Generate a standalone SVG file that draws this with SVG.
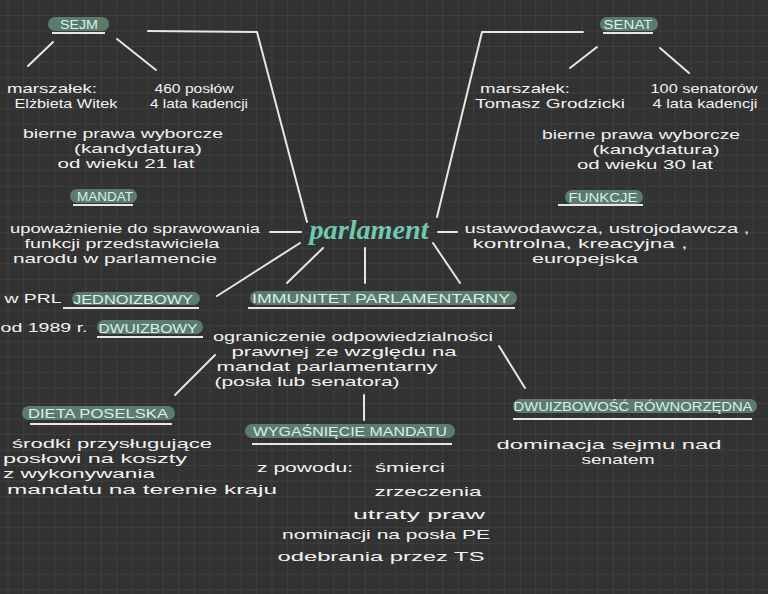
<svg xmlns="http://www.w3.org/2000/svg" width="768" height="594" viewBox="0 0 768 594">
<defs>
<pattern id="grid" patternUnits="userSpaceOnUse" x="7.6" y="15" width="15.52" height="15.52">
<path d="M15.52 0 L0 0 L0 15.52" fill="none" stroke="#4a4a4a" stroke-width="1"/>
</pattern>
<style>
.t{font-family:"Liberation Sans","DejaVu Sans",sans-serif;font-size:13px;fill:#f2f2f2;text-anchor:middle}
.p{fill:#5b7b6f}
.pt{font-family:"Liberation Sans","DejaVu Sans",sans-serif;font-size:12px;fill:#d9f0e6;text-anchor:middle}
.u{stroke:#e6e6e6;stroke-width:2;fill:none}
.c{stroke:#e6e6e6;stroke-width:2;fill:none;stroke-linecap:round;stroke-linejoin:round}
.title{font-family:"Liberation Serif","DejaVu Serif",serif;font-style:italic;font-weight:bold;font-size:28px;fill:#6fc9b0;text-anchor:middle}
</style>
</defs>
<rect width="768" height="594" fill="#323232"/>
<rect width="768" height="594" fill="url(#grid)"/>

<g id="connectors">
<polyline class="c" points="148,31 257,32 307,222"/>
<polyline class="c" points="583,32 482,32 437,217"/>
<line class="c" x1="53" y1="42" x2="28" y2="66"/>
<line class="c" x1="117" y1="39" x2="156" y2="70"/>
<line class="c" x1="597" y1="47" x2="570" y2="68"/>
<line class="c" x1="660" y1="48" x2="689" y2="73"/>
<line class="c" x1="270" y1="232" x2="301" y2="232"/>
<line class="c" x1="438" y1="232" x2="457" y2="232"/>
<line class="c" x1="300" y1="243" x2="217" y2="296"/>
<line class="c" x1="323" y1="248" x2="287" y2="283"/>
<line class="c" x1="365" y1="248" x2="365" y2="283"/>
<line class="c" x1="433" y1="243" x2="460" y2="283"/>
<line class="c" x1="215" y1="355" x2="175" y2="395"/>
<line class="c" x1="499" y1="346" x2="525" y2="388"/>
<line class="c" x1="364" y1="395" x2="364" y2="420"/>
</g>

<g id="parlament">
<text class="title" x="369" y="239" textLength="119" lengthAdjust="spacingAndGlyphs">parlament</text>
</g>

<g id="sejm">
<rect class="p" x="48" y="17" width="61" height="14" rx="7"/>
<text class="pt" x="79" y="29" textLength="38" lengthAdjust="spacingAndGlyphs">SEJM</text>
<line class="u" x1="52" y1="33" x2="105" y2="33"/>
</g>
<g id="sejm-marszalek">
<text class="t" x="52" y="93" textLength="90" lengthAdjust="spacingAndGlyphs">marszałek:</text>
<text class="t" x="66" y="108" textLength="103" lengthAdjust="spacingAndGlyphs">Elżbieta Witek</text>
</g>
<g id="sejm-poslowie">
<text class="t" x="194" y="93" textLength="79" lengthAdjust="spacingAndGlyphs">460 posłów</text>
<text class="t" x="199" y="108" textLength="98" lengthAdjust="spacingAndGlyphs">4 lata kadencji</text>
</g>
<g id="sejm-bierne">
<text class="t" x="123" y="138" textLength="200" lengthAdjust="spacingAndGlyphs">bierne prawa wyborcze</text>
<text class="t" x="138" y="153" textLength="128" lengthAdjust="spacingAndGlyphs">(kandydatura)</text>
<text class="t" x="126" y="168" textLength="137" lengthAdjust="spacingAndGlyphs">od wieku 21 lat</text>
</g>

<g id="senat">
<rect class="p" x="600" y="17" width="58" height="14" rx="7"/>
<text class="pt" x="628" y="29" textLength="49" lengthAdjust="spacingAndGlyphs">SENAT</text>
<line class="u" x1="603" y1="33" x2="653" y2="33"/>
</g>
<g id="senat-marszalek">
<text class="t" x="525" y="93" textLength="90" lengthAdjust="spacingAndGlyphs">marszałek:</text>
<text class="t" x="550" y="108" textLength="150" lengthAdjust="spacingAndGlyphs">Tomasz Grodzicki</text>
</g>
<g id="senat-senatorowie">
<text class="t" x="704" y="93" textLength="107" lengthAdjust="spacingAndGlyphs">100 senatorów</text>
<text class="t" x="705" y="108" textLength="105" lengthAdjust="spacingAndGlyphs">4 lata kadencji</text>
</g>
<g id="senat-bierne">
<text class="t" x="641" y="139" textLength="198" lengthAdjust="spacingAndGlyphs">bierne prawa wyborcze</text>
<text class="t" x="656" y="154" textLength="127" lengthAdjust="spacingAndGlyphs">(kandydatura)</text>
<text class="t" x="645" y="169" textLength="136" lengthAdjust="spacingAndGlyphs">od wieku 30 lat</text>
</g>

<g id="mandat">
<rect class="p" x="70" y="189" width="67" height="14" rx="7"/>
<text class="pt" x="105" y="201" textLength="56" lengthAdjust="spacingAndGlyphs">MANDAT</text>
<line class="u" x1="73" y1="205" x2="133" y2="205"/>
<text class="t" x="135" y="233" textLength="250" lengthAdjust="spacingAndGlyphs">upoważnienie do sprawowania</text>
<text class="t" x="122" y="248" textLength="195" lengthAdjust="spacingAndGlyphs">funkcji przedstawiciela</text>
<text class="t" x="115" y="263" textLength="204" lengthAdjust="spacingAndGlyphs">narodu w parlamencie</text>
</g>

<g id="funkcje">
<rect class="p" x="565" y="190" width="78" height="14" rx="7"/>
<text class="pt" x="603" y="202" textLength="69" lengthAdjust="spacingAndGlyphs">FUNKCJE</text>
<line class="u" x1="558" y1="205" x2="643" y2="205"/>
<text class="t" x="607" y="233" textLength="285" lengthAdjust="spacingAndGlyphs">ustawodawcza, ustrojodawcza ,</text>
<text class="t" x="580" y="248" textLength="215" lengthAdjust="spacingAndGlyphs">kontrolna, kreacyjna ,</text>
<text class="t" x="585" y="263" textLength="106" lengthAdjust="spacingAndGlyphs">europejska</text>
</g>

<g id="jednoizbowy">
<text class="t" x="33" y="303" textLength="57" lengthAdjust="spacingAndGlyphs">w PRL</text>
<rect class="p" x="72" y="292" width="128" height="13" rx="6.5"/>
<text class="pt" x="133" y="304" textLength="120" lengthAdjust="spacingAndGlyphs">JEDNOIZBOWY</text>
<line class="u" x1="63" y1="308" x2="199" y2="308"/>
</g>

<g id="dwuizbowy">
<text class="t" x="44" y="332" textLength="87" lengthAdjust="spacingAndGlyphs">od 1989 r.</text>
<rect class="p" x="97" y="320" width="106" height="14" rx="7"/>
<text class="pt" x="148" y="333" textLength="99" lengthAdjust="spacingAndGlyphs">DWUIZBOWY</text>
<line class="u" x1="97" y1="337" x2="203" y2="337"/>
</g>

<g id="immunitet">
<rect class="p" x="250" y="291" width="267" height="14" rx="7"/>
<text class="pt" x="381" y="303" textLength="258" lengthAdjust="spacingAndGlyphs">IMMUNITET PARLAMENTARNY</text>
<line class="u" x1="248" y1="308" x2="515" y2="308"/>
<text class="t" x="353" y="341" textLength="280" lengthAdjust="spacingAndGlyphs">ograniczenie odpowiedzialności</text>
<text class="t" x="344" y="356" textLength="225" lengthAdjust="spacingAndGlyphs">prawnej ze względu na</text>
<text class="t" x="327" y="371" textLength="221" lengthAdjust="spacingAndGlyphs">mandat parlamentarny</text>
<text class="t" x="307" y="386" textLength="185" lengthAdjust="spacingAndGlyphs">(posła lub senatora)</text>
</g>

<g id="dieta">
<rect class="p" x="22" y="406" width="153" height="14" rx="7"/>
<text class="pt" x="98" y="418" textLength="140" lengthAdjust="spacingAndGlyphs">DIETA POSELSKA</text>
<line class="u" x1="30" y1="424" x2="172" y2="424"/>
<text class="t" x="112" y="448" textLength="200" lengthAdjust="spacingAndGlyphs">środki przysługujące</text>
<text class="t" x="95" y="463" textLength="184" lengthAdjust="spacingAndGlyphs">posłowi na koszty</text>
<text class="t" x="79" y="478" textLength="152" lengthAdjust="spacingAndGlyphs">z wykonywania</text>
<text class="t" x="142" y="494" textLength="270" lengthAdjust="spacingAndGlyphs">mandatu na terenie kraju</text>
</g>

<g id="wygasniecie">
<rect class="p" x="245" y="424" width="210" height="14" rx="7"/>
<text class="pt" x="350" y="436" textLength="194" lengthAdjust="spacingAndGlyphs">WYGAŚNIĘCIE MANDATU</text>
<line class="u" x1="252" y1="444" x2="452" y2="444"/>
<text class="t" x="305" y="472" textLength="96" lengthAdjust="spacingAndGlyphs">z powodu:</text>
<text class="t" x="410" y="472" textLength="70" lengthAdjust="spacingAndGlyphs">śmierci</text>
<text class="t" x="428" y="496" textLength="107" lengthAdjust="spacingAndGlyphs">zrzeczenia</text>
<text class="t" x="419" y="519" textLength="132" lengthAdjust="spacingAndGlyphs">utraty praw</text>
<text class="t" x="386" y="539" textLength="208" lengthAdjust="spacingAndGlyphs">nominacji na posła PE</text>
<text class="t" x="381" y="561" textLength="207" lengthAdjust="spacingAndGlyphs">odebrania przez TS</text>
</g>

<g id="dwuizbowosc">
<rect class="p" x="513" y="399" width="244" height="14" rx="7"/>
<text class="pt" x="633" y="411" textLength="239" lengthAdjust="spacingAndGlyphs">DWUIZBOWOŚĆ RÓWNORZĘDNA</text>
<line class="u" x1="513" y1="419" x2="752" y2="419"/>
<text class="t" x="609" y="449" textLength="225" lengthAdjust="spacingAndGlyphs">dominacja sejmu nad</text>
<text class="t" x="618" y="464" textLength="73" lengthAdjust="spacingAndGlyphs">senatem</text>
</g>
</svg>
